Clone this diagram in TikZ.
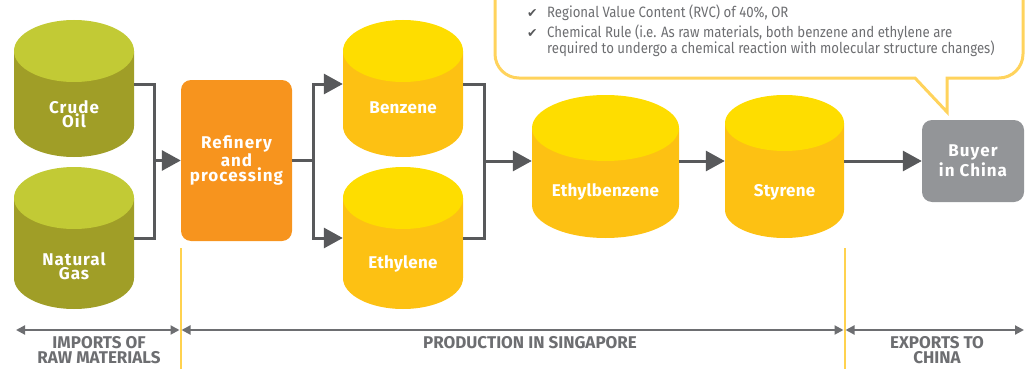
\documentclass[tikz,border=0pt]{standalone}
\usepackage{fontspec}
\setmainfont{Fira Sans}
\newfontfamily\symfont{DejaVu Sans}
\newfontfamily\tagfontwide[LetterSpace=6]{Fira Sans}
\newfontfamily\tagfont[LetterSpace=1.5]{Fira Sans}
\newfontfamily\notefont[FakeStretch=0.88]{Fira Sans}
\usetikzlibrary{arrows.meta}

\definecolor{oliveside}{HTML}{A09E27}
\definecolor{olivetop}{HTML}{C2CA35}
\definecolor{yelside}{HTML}{FDC113}
\definecolor{yeltop}{HTML}{FEDD00}
\definecolor{orangebox}{HTML}{F7941E}
\definecolor{graybox}{HTML}{939598}
\definecolor{darkline}{HTML}{58595B}
\definecolor{textgray}{HTML}{6D6E71}
\definecolor{calloutline}{HTML}{FFD35C}
\definecolor{sepline}{HTML}{FFD24F}

% drum: name, cx, top-centre y, bottom-centre y, rx, ry, side colour, top colour
\newcommand\drum[8]{%
  \fill[#7] (#2-#5,#3) -- (#2-#5,#4)
    arc[start angle=180,end angle=360,x radius=#5pt,y radius=#6pt]
    -- (#2+#5,#3) -- cycle;
  \fill[#8] (#2,#3) ellipse[x radius=#5pt,y radius=#6pt];
  \node[inner sep=0pt,minimum width={2*#5*1pt},minimum height={(#4-#3+2*#6)*1pt}]
    (#1) at (#2,{(#3+#4)/2}) {};
}

\tikzset{
  x=1pt, y=-1pt,
  tagwide/.style={text=white, font=\tagfontwide\bfseries\fontsize{17}{14.5}\selectfont, align=center, inner sep=0pt},
  tag/.style={text=white, font=\tagfont\bfseries\fontsize{17}{14.5}\selectfont, align=center, inner sep=0pt},
  stagebox/.style={inner sep=0pt, rounded corners=10pt},
  conn/.style={draw=darkline, line width=3pt, line join=miter},
  arr/.style={-{Triangle[length=19pt,width=20pt]}},
  band/.style={text=textgray, font=\bfseries\fontsize{17}{14.5}\selectfont, align=center, inner sep=0pt},
  span/.style={draw=textgray, line width=2pt, {Triangle[length=9pt,width=9pt]}-{Triangle[length=9pt,width=9pt]}},
  sep/.style={draw=sepline, line width=2pt},
  callout/.style={draw=calloutline, line width=3pt, line join=miter},
  note/.style={text=textgray, font=\notefont\fontsize{15}{17}\selectfont, anchor=base west, inner sep=0pt},
  tick/.style={text=darkline, font=\symfont\fontsize{12.5}{14}\selectfont, anchor=base west, inner sep=0pt},
}

\begin{document}
\begin{tikzpicture}
\useasboundingbox (0,0) rectangle (1025,369);
\clip (0,0) rectangle (1025,369);

% speech bubble with the rules of origin
\draw[callout] (495,-30) -- (495,54) arc[start angle=180,end angle=270,radius=24pt]
  -- (915,78) -- (947,112) -- (947,78) -- (999,78)
  arc[start angle=270,end angle=360,radius=24pt] -- (1023,-30);
\node[tick] (c1) at (527,18) {✔};
\node[note] (n1) at (547,18) {Regional Value Content (RVC) of 40\%, OR};
\node[tick] (c2) at (527,38) {✔};
\node[note] (n2) at (547,38) {Chemical Rule (i.e. As raw materials, both benzene and ethylene are};
\node[note] (n3) at (547,54) {required to undergo a chemical reaction with molecular structure changes)};

% raw materials
\drum{crude}{74}{51}{126}{60}{31}{oliveside}{olivetop}
\drum{natgas}{74}{198}{278}{60}{31}{oliveside}{olivetop}
\node[tagwide] (crudeL) at (74,114) {Crude\\Oil};
\node[tagwide] (natgasL) at (74,266) {Natural\\Gas};

% refinery
\node[stagebox, fill=orangebox, minimum width=111pt, minimum height=161pt,
      font=\tagfontwide\bfseries\fontsize{17}{15}\selectfont, text=white, align=center]
  (refinery) at (236.5,160.5) {Refinery\\and\\processing};

% intermediates
\drum{benzene}{403}{51}{126}{60}{31}{yelside}{yeltop}
\drum{ethylene}{403}{198}{278}{60}{31}{yelside}{yeltop}
\node[tag, anchor=base] (benzeneL) at (403,113) {Benzene};
\node[tag, anchor=base] (ethyleneL) at (403,268) {Ethylene};

\drum{ethylbenzene}{605.5}{128}{205}{73.5}{33}{yelside}{yeltop}
\drum{styrene}{784.5}{123}{210}{59.5}{28}{yelside}{yeltop}
\node[tag, anchor=base] (ethylbenzeneL) at (605.5,196) {Ethylbenzene};
\node[tag, anchor=base] (styreneL) at (784.5,196) {Styrene};

% buyer
\node[stagebox, fill=graybox, minimum width=102pt, minimum height=82pt,
      font=\tagfontwide\bfseries\fontsize{17}{19.5}\selectfont, text=white, align=center]
  (buyer) at (973,161) {Buyer\\in China};

% flow connectors
\coordinate (j1) at (154,160.5);
\coordinate (j2) at (313,160.5);
\coordinate (j3) at (484,161);
\draw[conn] ([yshift=4.5pt]crude.east) -| (j1) |- (natgas.east);
\draw[conn, arr] (j1) -- (j1 -| refinery.west);
\draw[conn] (refinery.east) -- (j2);
\draw[conn, arr] (j2) |- ([yshift=4.5pt]benzene.west);
\draw[conn, arr] (j2) |- (ethylene.west);
\draw[conn] ([yshift=4.5pt]benzene.east) -| (j3) |- (ethylene.east);
\draw[conn, arr] (j3) -- (j3 -| ethylbenzene.west);
\draw[conn, arr] (ethylbenzene.east |- j3) -- (styrene.west |- j3);
\draw[conn, arr] (styrene.east |- j3) -- (buyer.west |- j3);

% stage separators and spans
\coordinate (s1a) at (180.5,248); \coordinate (s1b) at (180.5,372);
\coordinate (s2a) at (844.5,248); \coordinate (s2b) at (844.5,372);
\draw[sep] (s1a) -- (s1b);
\draw[sep] (s2a) -- (s2b);
\coordinate (t0) at (16,330);  \coordinate (t1) at (179.5,330);
\coordinate (t2) at (181.5,330); \coordinate (t3) at (843.5,330);
\coordinate (t4) at (845.5,330); \coordinate (t5) at (1024,330);
\draw[span] (t0) -- (t1);
\draw[span] (t2) -- (t3);
\draw[span] (t4) -- (t5);
\node[band] (impL) at (99,350) {IMPORTS OF\\RAW MATERIALS};
\node[band] (prodL) at (530,343) {PRODUCTION IN SINGAPORE};
\node[band] (expL) at (937,350) {EXPORTS TO\\CHINA};
\end{tikzpicture}
\end{document}
